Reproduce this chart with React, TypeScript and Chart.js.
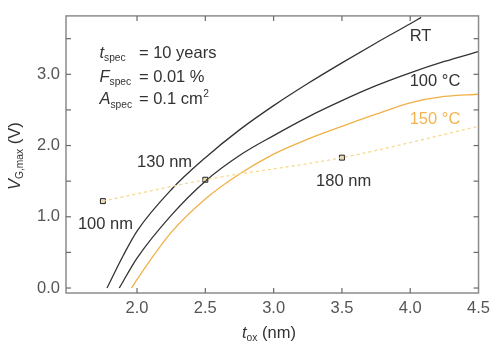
import React, { useEffect, useRef } from "react";
import { Chart, registerables } from "chart.js";

Chart.register(...registerables);

// ---- data ----
const rtX = [1.78, 1.9, 2.0, 2.25, 2.5, 2.75, 3.0, 3.25, 3.5, 3.75, 4.0, 4.08];
const rtY = [0.0, 0.46, 0.8, 1.38, 1.83, 2.22, 2.56, 2.87, 3.16, 3.44, 3.71, 3.8];

const c100X = [1.87, 2.0, 2.25, 2.5, 2.75, 3.0, 3.25, 3.5, 3.75, 4.0, 4.25, 4.5];
const c100Y = [0.0, 0.42, 1.02, 1.5, 1.86, 2.14, 2.4, 2.63, 2.84, 3.02, 3.18, 3.32];

const c150X = [1.96, 2.0, 2.25, 2.5, 2.75, 3.0, 3.25, 3.5, 3.75, 4.0, 4.25, 4.5];
const c150Y = [0.0, 0.12, 0.78, 1.25, 1.6, 1.88, 2.09, 2.27, 2.44, 2.6, 2.69, 2.72];

const scaleX = [1.75, 2.5, 3.5, 4.5];
const scaleY = [1.22, 1.52, 1.83, 2.27];

const nodeX = [1.75, 2.5, 3.5];
const nodeY = [1.22, 1.52, 1.83];
const nodeLabels = ["100 nm", "130 nm", "180 nm"];

const xTicks = [2.0, 2.5, 3.0, 3.5, 4.0, 4.5];
const yTicks = [0, 1, 2, 3];
const xTickMarks = [2.0, 2.5, 3.0, 3.5, 4.0];
const yTickMarks = [0, 0.5, 1, 1.5, 2, 2.5, 3, 3.5];

const toPts = (xs: number[], ys: number[]) => xs.map((x, i) => ({ x, y: ys[i] }));

type Part = { t: string; italic?: boolean; sub?: boolean; sup?: boolean; color?: string };
const FAM = "'Liberation Sans', Arial, sans-serif";
const FS = 16.5;

function drawRich(ctx: CanvasRenderingContext2D, parts: Part[], x: number, y: number, size: number, color: string) {
  let cx = x;
  for (const p of parts) {
    const s = p.sub || p.sup ? size * 0.62 : size;
    ctx.font = `${p.italic ? "italic " : ""}${s}px ${FAM}`;
    ctx.fillStyle = p.color || color;
    const dy = p.sub ? size * 0.3 : p.sup ? -size * 0.36 : 0;
    ctx.fillText(p.t, cx, y + dy);
    cx += ctx.measureText(p.t).width;
  }
  return cx;
}

const decor = {
  id: "decor",
  afterDraw(chart: any) {
    const { ctx, chartArea } = chart;
    const { left, right, top, bottom } = chartArea;
    const x = chart.scales.x;
    const y = chart.scales.y;
    ctx.save();
    ctx.strokeStyle = "#8c8c8c";
    ctx.lineWidth = 1.5;
    ctx.strokeRect(left, top, right - left, bottom - top);
    ctx.strokeStyle = "#6a6a6a";
    ctx.lineWidth = 1.2;
    const line = (a: number, b: number, c: number, d: number) => {
      ctx.beginPath();
      ctx.moveTo(a, b);
      ctx.lineTo(c, d);
      ctx.stroke();
    };
    for (const v of xTickMarks) {
      const px = x.getPixelForValue(v);
      line(px, bottom, px, bottom - 5);
      line(px, top, px, top + 5);
    }
    for (const v of yTickMarks) {
      const py = y.getPixelForValue(v);
      line(left, py, left + 5, py);
      line(right, py, right - 5, py);
    }

    ctx.textBaseline = "middle";
    ctx.textAlign = "left";
    const dark = "#333";
    // spec block
    const sx = x.getPixelForValue(1.725);
    const eqx = x.getPixelForValue(2.014);
    const specs: [string, string, number][] = [
      ["t", "= 10 years", 3.294],
      ["F", "= 0.01 %", 2.962],
      ["A", "= 0.1 cm", 2.643],
    ];
    specs.forEach(([l, v, yy], i) => {
      const py = y.getPixelForValue(yy);
      drawRich(ctx, [{ t: l, italic: true }, { t: "spec", sub: true }], sx, py, FS, dark);
      const e = drawRich(ctx, [{ t: v }], eqx, py, FS, dark);
      if (i === 2) drawRich(ctx, [{ t: "2", sup: true }], e + 0.5, py, FS, dark);
    });

    // curve labels
    drawRich(ctx, [{ t: "RT" }], x.getPixelForValue(3.996), y.getPixelForValue(3.529), FS, dark);
    drawRich(ctx, [{ t: "100 °C" }], x.getPixelForValue(3.996), y.getPixelForValue(2.906), FS, dark);
    drawRich(ctx, [{ t: "150 °C" }], x.getPixelForValue(3.996), y.getPixelForValue(2.366), FS, "#f2b44e");

    // node labels
    const nodePos: [number, number][] = [
      [1.567, 0.899],
      [2.0, 1.757],
      [3.311, 1.494],
    ];
    nodeLabels.forEach((t, i) => {
      drawRich(ctx, [{ t }], x.getPixelForValue(nodePos[i][0]), y.getPixelForValue(nodePos[i][1]), FS, dark);
    });

    // x title
    drawRich(ctx, [{ t: "t", italic: true }, { t: "ox", sub: true }, { t: " (nm)" }], 242, 333, FS, dark);

    // y title
    ctx.save();
    ctx.translate(15, 190);
    ctx.rotate(-Math.PI / 2);
    drawRich(ctx, [{ t: "V", italic: true }, { t: "G,max", sub: true }, { t: " (V)" }], 0, 0, FS, dark);
    ctx.restore();

    ctx.restore();
  },
};

export default function App() {
  const ref = useRef<HTMLCanvasElement>(null);
  useEffect(() => {
    if (!ref.current) return;
    const common = { pointRadius: 0, fill: false, cubicInterpolationMode: "monotone" as const };
    const chart = new Chart(ref.current, {
      type: "line",
      data: {
        datasets: [
          { ...common, data: toPts(scaleX, scaleY), borderColor: "#f5d98c", borderWidth: 1.3, borderDash: [3, 3] },
          { ...common, data: toPts(rtX, rtY), borderColor: "#333", borderWidth: 1.3 },
          { ...common, data: toPts(c100X, c100Y), borderColor: "#333", borderWidth: 1.3 },
          { ...common, data: toPts(c150X, c150Y), borderColor: "#f0b048", borderWidth: 1.3 },
          {
            data: toPts(nodeX, nodeY),
            showLine: false,
            pointStyle: "rect",
            pointRadius: 3.5,
            pointBackgroundColor: "#e6dfc8",
            pointBorderColor: "#222",
            pointBorderWidth: 1,
          },
        ],
      },
      options: {
        animation: false,
        responsive: false,
        events: [],
        layout: { padding: { top: 12, right: 11, left: 0, bottom: 0 } },
        plugins: { legend: { display: false }, tooltip: { enabled: false } },
        scales: {
          x: {
            type: "linear",
            min: 1.48,
            max: 4.5,
            grid: { display: false, drawTicks: false },
            border: { display: false },
            afterBuildTicks: (s: any) => {
              s.ticks = xTicks.map((value) => ({ value }));
            },
            afterFit: (s: any) => {
              s.height = 53;
            },
            ticks: {
              autoSkip: false,
              maxRotation: 0,
              padding: 6,
              color: "#555",
              font: { family: FAM, size: FS },
              callback: (v: any) => Number(v).toFixed(1),
            },
          },
          y: {
            type: "linear",
            min: -0.07,
            max: 3.82,
            grid: { display: false, drawTicks: false },
            border: { display: false },
            afterBuildTicks: (s: any) => {
              s.ticks = yTicks.map((value) => ({ value }));
            },
            afterFit: (s: any) => {
              s.width = 66;
            },
            ticks: {
              padding: 6,
              color: "#555",
              font: { family: FAM, size: FS },
              callback: (v: any) => Number(v).toFixed(1),
            },
          },
        },
      },
      plugins: [decor],
    });
    return () => chart.destroy();
  }, []);
  return (
    <div style={{ position: "fixed", left: 0, top: 0, width: 496, height: 346, background: "#fff" }}>
      <canvas ref={ref} width={496} height={346} />
    </div>
  );
}
